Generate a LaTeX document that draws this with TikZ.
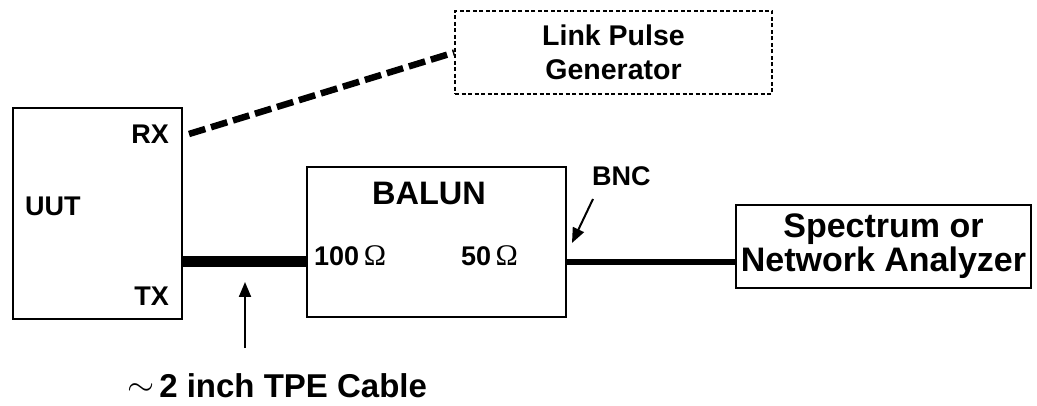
\documentclass[tikz,border=0pt]{standalone}
\usepackage{fontspec}
\setmainfont{Liberation Sans}
\newfontfamily\symfont{Liberation Serif}
\usetikzlibrary{arrows.meta,calc}
\newcommand{\ohm}{{\symfont\mdseries\fontsize{30}{30}\selectfont Ω}}
\begin{document}
\begin{tikzpicture}[x=1pt,y=-1pt,
  box/.style={draw, line width=2pt, inner sep=0pt},
  dbox/.style={draw, line width=1.5pt, dash pattern=on 4pt off 2.5pt, inner sep=0pt},
  lbl/.style={inner sep=0pt, font=\bfseries\fontsize{#1}{34}\selectfont},
  lbl/.default=27,
  ptr/.style={line width=2pt, -{Triangle[length=15pt,width=12pt]}},
  cable/.style={line width=11pt},
  coax/.style={line width=6pt},
  dline/.style={line width=6.5pt, dash pattern=on 17pt off 6pt}]
\useasboundingbox (0,0) rectangle (1037,406);

% boxes
\node[box, minimum width=169pt, minimum height=211pt] (uut) at (97.5,213.5) {};
\node[box, minimum width=259pt, minimum height=150pt] (balun) at (436.5,242) {};
\node[box, minimum width=295pt, minimum height=83pt, align=center, lbl=34]
  (spec) at (883.5,246.5) {Spectrum or\\Network Analyzer};
\node[dbox, minimum width=317pt, minimum height=83pt, align=center, lbl=28.5]
  (lpg) at (613.5,52.5) {Link Pulse\\Generator};

% labels
\node[lbl, anchor=west] (uutl) at (25,206) {UUT};
\node[lbl, anchor=east] (rx) at (169,134) {RX};
\node[lbl, anchor=east] (tx) at (169,296) {TX};
\node[lbl=32.5, anchor=center] (balunl) at (429,193.5) {BALUN};
\node[lbl=27, anchor=base west] (hundred) at (314,266) {100\,\ohm};
\node[lbl=27, anchor=base west] (fifty) at (461,266) {50\,\ohm};
\node[lbl=27, anchor=west] (bnc) at (592,176) {BNC};
\node[lbl=33, anchor=base west] (cablel) at (127,397)
  {\raisebox{2pt}{\scalebox{1.4}[1.3]{$\sim$}}\hspace{5pt}2 inch TPE Cable};

% connectors
\coordinate (cab) at (0,262);
\draw[cable] (uut.east |- cab) -- (balun.west |- cab);
\draw[coax] (balun.east |- cab) -- (spec.west |- cab);
\draw[dline] ($(uut.east |- rx)+(6,0)$) -- (lpg.west);

\coordinate (tpetail) at (245,348);
\coordinate (tpetip) at (245,282);
\draw[ptr] (tpetail) -- (tpetip);
\coordinate (bnctail) at (593,199);
\coordinate (bnctip) at (572,243);
\draw[ptr] (bnctail) -- (bnctip);
\end{tikzpicture}
\end{document}
